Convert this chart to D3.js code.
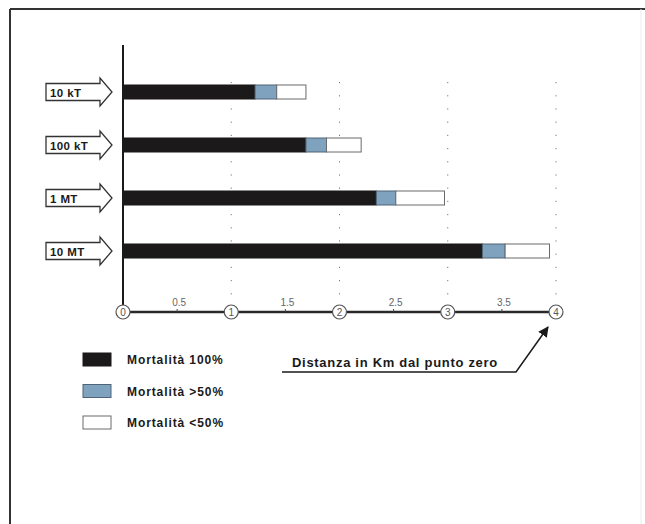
<!DOCTYPE html>
<html>
<head>
<meta charset="utf-8">
<script src="https://cdn.jsdelivr.net/npm/d3@7"></script>
<style>
  html, body { margin: 0; padding: 0; background: #fff; }
  svg { display: block; font-family: "Liberation Sans", Arial, sans-serif; }
</style>
</head>
<body>
<svg id="chart" width="645" height="524"></svg>
<script>
// Yield classes of the device
const categories = ["10 kT", "100 kT", "1 MT", "10 MT"];
// Outer radius (km) of each mortality zone, cumulative from ground zero
const mort100 = [1.22, 1.69, 2.34, 3.32];
const mortOver50 = [1.42, 1.88, 2.52, 3.53];
const mortUnder50 = [1.69, 2.20, 2.97, 3.94];
// Axis labels
const majorTicks = [0, 1, 2, 3, 4];
const minorTicks = [0.5, 1.5, 2.5, 3.5];
const minorLabels = ["0.5", "1.5", "2.5", "3.5"];
const legendLabels = ["Mortalità 100%", "Mortalità >50%", "Mortalità <50%"];
const axisTitle = "Distanza in Km dal punto zero";

const colors = ["#1b1919", "#7fa2bf", "#ffffff"];
const strokes = ["#1b1919", "#4f6477", "#6a6a6a"];

const svg = d3.select("#chart");

// outer frame
svg.append("line").attr("x1", 10).attr("y1", 9).attr("x2", 645).attr("y2", 9)
  .attr("stroke", "#333").attr("stroke-width", 2);
svg.append("line").attr("x1", 10).attr("y1", 9).attr("x2", 10).attr("y2", 524)
  .attr("stroke", "#333").attr("stroke-width", 2);
svg.append("line").attr("x1", 641).attr("y1", 9).attr("x2", 641).attr("y2", 524)
  .attr("stroke", "#ececec").attr("stroke-width", 1);

const x = d3.scaleLinear().domain([0, 4]).range([123, 556]);
const y = d3.scalePoint().domain(categories).range([92, 251]);
const barH = 14;
const axisY = 312;

// dotted guides at each kilometre
svg.append("g").selectAll("line").data(majorTicks.slice(1)).join("line")
  .attr("x1", d => x(d)).attr("x2", d => x(d))
  .attr("y1", 82).attr("y2", axisY - 8)
  .attr("stroke", "#777").attr("stroke-width", 1)
  .attr("stroke-dasharray", "1.2,12");

// stacked zone bars
const segs = [];
categories.forEach((c, i) => {
  const bounds = [0, mort100[i], mortOver50[i], mortUnder50[i]];
  for (let k = 0; k < 3; k++) segs.push({ c, k, x0: bounds[k], x1: bounds[k + 1] });
});
svg.append("g").selectAll("rect").data(segs).join("rect")
  .attr("x", d => x(d.x0)).attr("width", d => x(d.x1) - x(d.x0))
  .attr("y", d => y(d.c) - barH / 2).attr("height", barH)
  .attr("fill", d => colors[d.k])
  .attr("stroke", d => strokes[d.k]).attr("stroke-width", 1);

// vertical axis
svg.append("line").attr("x1", x(0)).attr("x2", x(0)).attr("y1", 45).attr("y2", axisY)
  .attr("stroke", "#1a1a1a").attr("stroke-width", 2);

// horizontal axis
svg.append("line").attr("x1", x(0)).attr("x2", x(4)).attr("y1", axisY).attr("y2", axisY)
  .attr("stroke", "#2a2a2a").attr("stroke-width", 2.5);

const minor = svg.append("g").selectAll("g").data(minorTicks).join("g");
minor.append("line")
  .attr("x1", d => x(d)).attr("x2", d => x(d)).attr("y1", axisY - 3).attr("y2", axisY)
  .attr("stroke", "#444").attr("stroke-width", 1);
minor.append("text")
  .attr("x", d => x(d) + 2).attr("y", axisY - 6)
  .attr("text-anchor", "middle").attr("font-size", 10).attr("fill", "#666")
  .text((d, i) => minorLabels[i]);

const major = svg.append("g").selectAll("g").data(majorTicks).join("g");
major.append("circle")
  .attr("cx", d => x(d)).attr("cy", axisY).attr("r", 7)
  .attr("fill", "#fff").attr("stroke", "#555").attr("stroke-width", 1.2);
major.append("text")
  .attr("x", d => x(d)).attr("y", axisY + 3.5)
  .attr("text-anchor", "middle").attr("font-size", 10).attr("fill", "#555")
  .text(d => d);

// block-arrow labels for each yield
const arrow = svg.append("g").selectAll("g").data(categories).join("g")
  .attr("transform", d => `translate(46,${y(d)})`);
arrow.append("path")
  .attr("d", "M0,-8.5 H54 V-14 L66,0 L54,14 V8.5 H0 Z")
  .attr("fill", "#fff").attr("stroke", "#333").attr("stroke-width", 1.3);
arrow.append("text")
  .attr("x", 4).attr("y", 4.5).attr("font-size", 11.5).attr("font-weight", "bold")
  .attr("letter-spacing", 0.4).attr("fill", "#1a1a1a")
  .text(d => d);

// legend
const leg = svg.append("g").selectAll("g").data(legendLabels).join("g")
  .attr("transform", (d, i) => `translate(83,${353 + i * 31.5})`);
leg.append("rect")
  .attr("width", 28).attr("height", 13)
  .attr("fill", (d, i) => colors[i]).attr("stroke", (d, i) => strokes[i]);
leg.append("text")
  .attr("x", 44).attr("y", 11).attr("font-size", 12).attr("font-weight", "bold")
  .attr("letter-spacing", 0.9).attr("fill", "#1a1a1a")
  .text(d => d);

// axis title with pointer to the 4 km mark
svg.append("text")
  .attr("x", 292).attr("y", 367).attr("font-size", 13).attr("font-weight", "bold")
  .attr("letter-spacing", 0.7).attr("fill", "#1a1a1a").text(axisTitle);
svg.append("defs").append("marker")
  .attr("id", "head").attr("viewBox", "0 0 10 10").attr("refX", 9).attr("refY", 5)
  .attr("markerWidth", 7).attr("markerHeight", 7).attr("orient", "auto")
  .append("path").attr("d", "M0,0 L10,5 L0,10 Z").attr("fill", "#1a1a1a");
svg.append("path")
  .attr("d", `M282,372 H516 L${x(4) - 8},${axisY + 15}`)
  .attr("fill", "none").attr("stroke", "#1a1a1a").attr("stroke-width", 1.5)
  .attr("marker-end", "url(#head)");
</script>
</body>
</html>
